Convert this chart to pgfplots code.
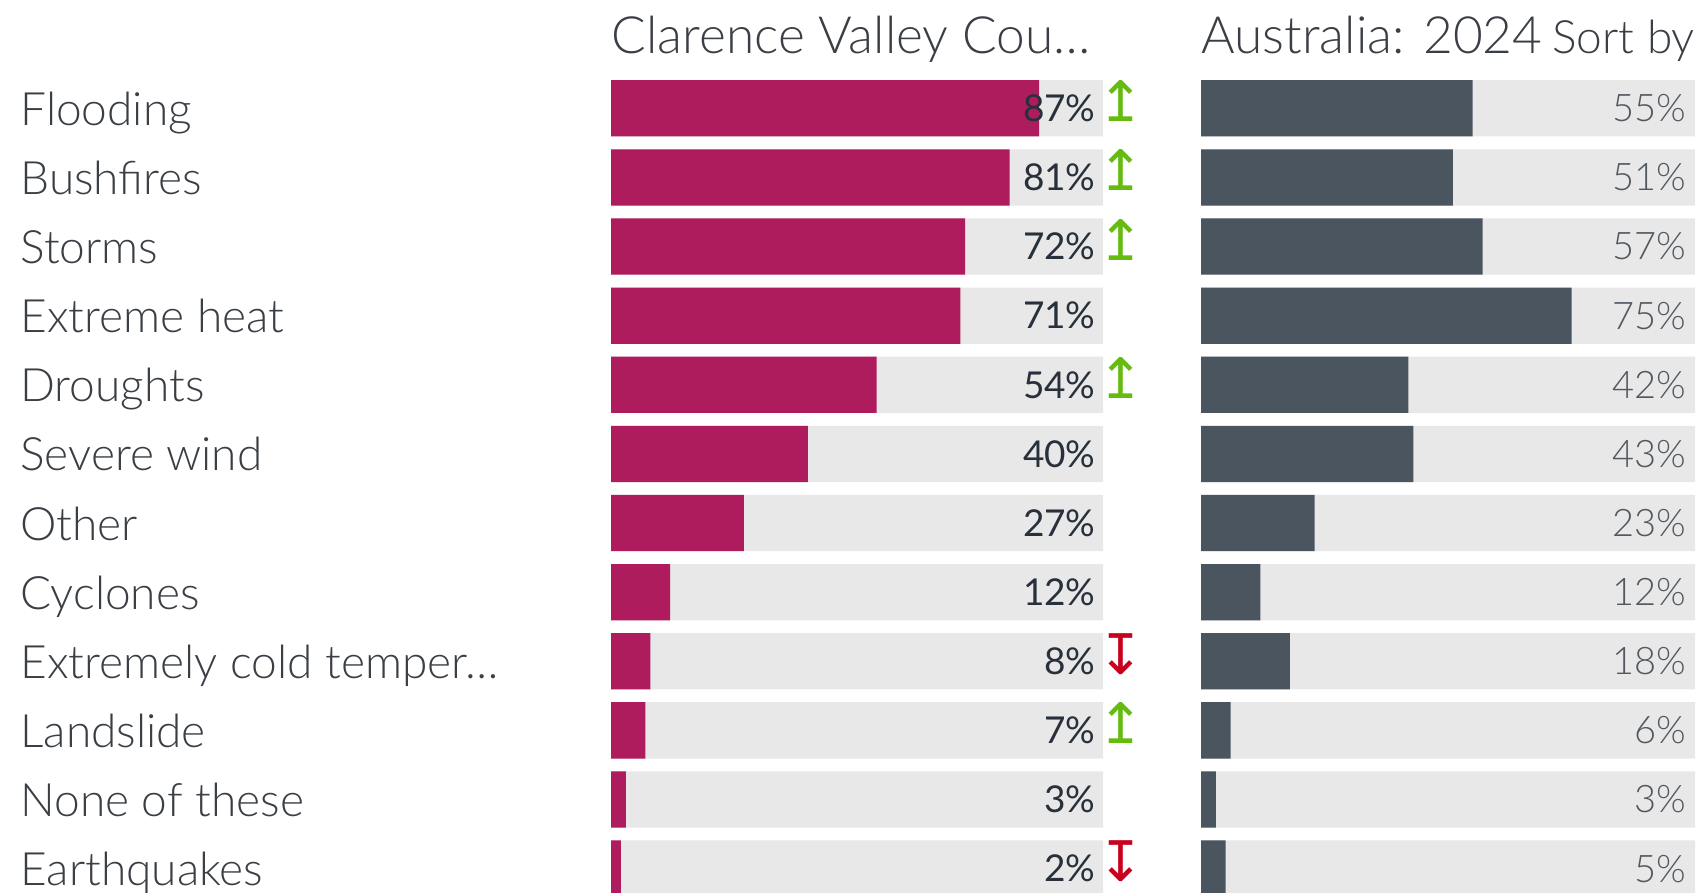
\documentclass[border=0pt]{standalone}
\usepackage{pgfplots}
\pgfplotsset{compat=1.18}
\usepackage{fontspec}
\setmainfont{Lato}[UprightFont={* Light}]
\newfontfamily\latoreg{Lato}
\newfontfamily\arrowfont{DejaVu Sans}
\definecolor{cvmag}{HTML}{AE1C5E}
\definecolor{ausgray}{HTML}{4A5560}
\definecolor{bggray}{HTML}{E8E8E8}
\definecolor{txt}{HTML}{3A3F45}
\definecolor{lval}{HTML}{28313B}
\definecolor{rval}{HTML}{525860}
\definecolor{upg}{HTML}{66BB11}
\definecolor{downr}{HTML}{C8001E}
\pgfplotsset{
 panel/.style={hide axis, scale only axis, height=414.72pt, xmin=0, xmax=100,
   ymin=-0.5, ymax=11.5, y dir=reverse, clip=false, anchor=north west},
 bgbar/.style={xbar, bar width=28.15pt, bar shift=0pt, fill=bggray, draw=none},
 fgbar/.style={xbar, bar width=28.15pt, bar shift=0pt, fill=#1, draw=none},
 labels/.style={only marks, mark=*, mark size=0pt, mark options={draw=none,fill=none},
   point meta=explicit symbolic, nodes near coords={\pgfplotspointmeta}},
}
\begin{document}
\begin{tikzpicture}
\useasboundingbox (0,0) rectangle (849pt,-446.5pt);
\clip (0,0) rectangle (849pt,-446.5pt);
% ---------------- left panel ----------------
\begin{axis}[panel, at={(305.5pt,-36.87pt)}, width=246pt]
\addplot[bgbar] coordinates {(100,0) (100,1) (100,2) (100,3) (100,4) (100,5) (100,6) (100,7) (100,8) (100,9) (100,10) (100,11)};
\addplot[fgbar=cvmag] coordinates {(87,0) (81,1) (72,2) (71,3) (54,4) (40,5) (27,6) (12,7) (8,8) (7,9) (3,10) (2,11)};
\addplot[labels, nodes near coords align={anchor=east},
  every node near coord/.append style={inner sep=0pt, xshift=-3.5pt, font=\latoreg\fontsize{18.5}{22}\selectfont, text=lval}]
  coordinates {(100,0) [87\%] (100,1) [81\%] (100,2) [72\%] (100,3) [71\%] (100,4) [54\%] (100,5) [40\%] (100,6) [27\%] (100,7) [12\%] (100,8) [8\%] (100,9) [7\%] (100,10) [3\%] (100,11) [2\%]};
\addplot[labels, nodes near coords align={anchor=base west},
  every node near coord/.append style={inner sep=0pt, xshift=-1pt, yshift=-8.5pt, font=\fontsize{23}{27}\selectfont, text=txt}]
  coordinates {(-119.7,0) [Flooding] (-119.7,1) [Bushfires] (-119.7,2) [Storms] (-119.7,3) [Extreme heat] (-119.7,4) [Droughts] (-119.7,5) [Severe wind] (-119.7,6) [Other] (-119.7,7) [Cyclones] (-119.7,8) [Extremely cold temper…] (-119.7,9) [Landslide] (-119.7,10) [None of these] (-119.7,11) [Earthquakes]};
\addplot[labels, nodes near coords align={anchor=center},
  every node near coord/.append style={inner sep=0pt, yshift=3.5pt, font=\arrowfont\fontsize{28}{28}\selectfont, text=upg}]
  coordinates {(103.66,0) [↥] (103.66,1) [↥] (103.66,2) [↥] (103.66,4) [↥] (103.66,9) [↥]};
\addplot[labels, nodes near coords align={anchor=center},
  every node near coord/.append style={inner sep=0pt, yshift=3.5pt, font=\arrowfont\fontsize{28}{28}\selectfont, text=downr}]
  coordinates {(103.66,8) [↧] (103.66,11) [↧]};
\node[anchor=base west, inner sep=0pt, font=\fontsize{25.7}{29}\selectfont, text=txt, yshift=27.65pt] at (axis cs:0,0) {Clarence Valley Cou…};
\end{axis}
% ---------------- right panel ----------------
\begin{axis}[panel, at={(600.5pt,-36.87pt)}, width=247pt]
\addplot[bgbar] coordinates {(100,0) (100,1) (100,2) (100,3) (100,4) (100,5) (100,6) (100,7) (100,8) (100,9) (100,10) (100,11)};
\addplot[fgbar=ausgray] coordinates {(55,0) (51,1) (57,2) (75,3) (42,4) (43,5) (23,6) (12,7) (18,8) (6,9) (3,10) (5,11)};
\addplot[labels, nodes near coords align={anchor=east},
  every node near coord/.append style={inner sep=0pt, xshift=-4pt, font=\fontsize{19}{22}\selectfont, text=rval}]
  coordinates {(100,0) [55\%] (100,1) [51\%] (100,2) [57\%] (100,3) [75\%] (100,4) [42\%] (100,5) [43\%] (100,6) [23\%] (100,7) [12\%] (100,8) [18\%] (100,9) [6\%] (100,10) [3\%] (100,11) [5\%]};
\node[anchor=base west, inner sep=0pt, font=\fontsize{25.7}{29}\selectfont, text=txt, yshift=27.65pt] at (axis cs:0,0) {Australia: 2024\hspace{5pt}{\fontsize{23}{27}\selectfont Sort by}};
\end{axis}
\end{tikzpicture}
\end{document}
